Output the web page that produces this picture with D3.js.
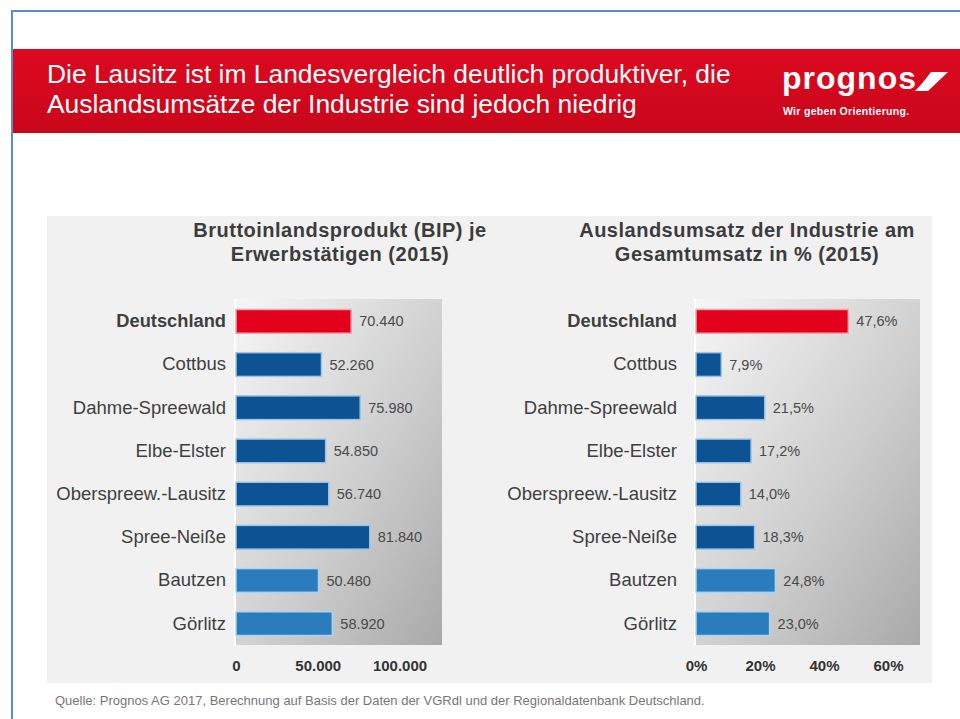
<!DOCTYPE html>
<html>
<head>
<meta charset="utf-8">
<script src="https://cdn.jsdelivr.net/npm/d3@7/dist/d3.min.js"></script>
<style>
  html, body { margin: 0; padding: 0; background: #fff; }
  svg { display: block; font-family: "Liberation Sans", Arial, sans-serif; }
</style>
</head>
<body>
<svg id="chart" width="960" height="719"></svg>
<script>
// Daten aus der Folie
const categories = ["Deutschland", "Cottbus", "Dahme-Spreewald", "Elbe-Elster",
  "Oberspreew.-Lausitz", "Spree-Neiße", "Bautzen", "Görlitz"];
const regionGroup = ["de", "bb", "bb", "bb", "bb", "bb", "sn", "sn"];
const bipValues = [70440, 52260, 75980, 54850, 56740, 81840, 50480, 58920];
const exportShares = [47.6, 7.9, 21.5, 17.2, 14.0, 18.3, 24.8, 23.0];
const bipTicks = [0, 50000, 100000];
const shareTicks = [0, 20, 40, 60];

const de = d3.formatLocale({ decimal: ",", thousands: ".", grouping: [3], currency: ["", " €"] });
const fmtInt = de.format(",d");
const fmtPct = de.format(",.1f");

const groupColor = d3.scaleOrdinal()
  .domain(["de", "bb", "sn"])
  .range(["#e2001a", "#0d5292", "#2b7cbd"]);
const groupStroke = d3.scaleOrdinal()
  .domain(["de", "bb", "sn"])
  .range(["#f3a3ab", "#9cc6e8", "#a9d3f2"]);

const svg = d3.select("#chart");
const defs = svg.append("defs");

// Kopfzeile
const bannerGrad = defs.append("linearGradient").attr("id", "banner")
  .attr("x1", 0).attr("y1", 0).attr("x2", 0).attr("y2", 1);
bannerGrad.append("stop").attr("offset", 0).attr("stop-color", "#dc0a20");
bannerGrad.append("stop").attr("offset", 1).attr("stop-color", "#c9061b");

const plotGrad = defs.append("linearGradient").attr("id", "plotbg")
  .attr("x1", 0).attr("y1", 0).attr("x2", 1).attr("y2", 1);
plotGrad.append("stop").attr("offset", 0).attr("stop-color", "#f6f6f6");
plotGrad.append("stop").attr("offset", 0.55).attr("stop-color", "#cfcfcf");
plotGrad.append("stop").attr("offset", 1).attr("stop-color", "#a9a9a9");

svg.append("rect").attr("x", 13).attr("y", 49).attr("width", 947).attr("height", 84)
  .attr("fill", "url(#banner)");

// blauer Rahmen
svg.append("path").attr("d", "M12,719 V11 H960")
  .attr("fill", "none").attr("stroke", "#5a8bcb").attr("stroke-width", 2);

const head = svg.append("text").attr("fill", "#fff").attr("font-size", 26.4);
head.append("tspan").attr("x", 47).attr("y", 83)
  .text("Die Lausitz ist im Landesvergleich deutlich produktiver, die");
head.append("tspan").attr("x", 47).attr("y", 113)
  .text("Auslandsumsätze der Industrie sind jedoch niedrig");

// Logo
svg.append("text").attr("x", 782).attr("y", 89).attr("fill", "#fff")
  .attr("font-size", 32).attr("font-weight", "bold").attr("letter-spacing", 1)
  .text("prognos");
svg.append("path").attr("d", "M931,72 L948,72 L928,91 L915,91 Q922,84 931,72 Z").attr("fill", "#fff");
svg.append("text").attr("x", 783).attr("y", 115).attr("fill", "#fff")
  .attr("font-size", 10.5).attr("font-weight", "bold").attr("letter-spacing", 0.3)
  .attr("font-family", "'Liberation Sans Narrow', 'Liberation Sans', sans-serif")
  .text("Wir geben Orientierung.");

// grauer Hintergrund der Grafik
svg.append("rect").attr("x", 47).attr("y", 216).attr("width", 885).attr("height", 467)
  .attr("fill", "#f1f1f1");

const plotTop = 299, plotBottom = 645;

function drawPanel(opts) {
  const x = d3.scaleLinear().domain([0, opts.max]).range([opts.left, opts.right]);
  const y = d3.scaleBand().domain(categories).range([plotTop + 1, plotBottom])
    .paddingInner(0.45).paddingOuter(0.22);

  const g = svg.append("g");

  g.append("rect").attr("x", opts.left).attr("y", plotTop)
    .attr("width", opts.right - opts.left).attr("height", plotBottom - plotTop)
    .attr("fill", "url(#plotbg)");
  g.append("line").attr("x1", opts.left - 1).attr("x2", opts.left - 1)
    .attr("y1", plotTop).attr("y2", plotBottom)
    .attr("stroke", "#fff").attr("stroke-width", 2);

  // Titel
  const t = g.append("text").attr("text-anchor", "middle").attr("fill", "#3c3c3c")
    .attr("font-size", 20).attr("font-weight", "bold").attr("letter-spacing", 0.5);
  opts.title.forEach((line, i) => {
    t.append("tspan").attr("x", opts.titleX).attr("y", 237 + i * 24).text(line);
  });

  // Balken
  g.selectAll(".bar").data(opts.values).enter().append("rect")
    .attr("class", "bar")
    .attr("x", x(0))
    .attr("y", (d, i) => y(categories[i]))
    .attr("width", d => x(d) - x(0))
    .attr("height", y.bandwidth())
    .attr("fill", (d, i) => groupColor(regionGroup[i]))
    .attr("stroke", (d, i) => groupStroke(regionGroup[i]))
    .attr("stroke-width", 1.5);

  // Werte
  g.selectAll(".val").data(opts.values).enter().append("text")
    .attr("class", "val")
    .attr("x", d => x(d) + 8)
    .attr("y", (d, i) => y(categories[i]) + y.bandwidth() / 2)
    .attr("dy", "0.35em")
    .attr("font-size", 14.5).attr("fill", "#4a4a4a")
    .text(opts.fmt);

  // Kategorien
  const yAxis = g.append("g").attr("transform", `translate(${x(0)},0)`)
    .call(d3.axisLeft(y).tickSize(0).tickPadding(opts.labelPad));
  yAxis.select(".domain").remove();
  yAxis.selectAll("text")
    .attr("fill", "#3f3f3f")
    .attr("font-family", "'Liberation Sans', Arial, sans-serif")
    .attr("font-weight", d => d === "Deutschland" ? "bold" : "normal")
    .attr("font-size", d => d === "Deutschland" ? 18.3 : 18.5);

  // x-Achse
  const xAxis = g.append("g").attr("transform", `translate(0,${plotBottom})`)
    .call(d3.axisBottom(x).tickValues(opts.ticks).tickSize(0).tickPadding(15.5)
      .tickFormat(opts.tickFmt));
  xAxis.select(".domain").remove();
  xAxis.selectAll("text")
    .attr("font-size", 15).attr("font-weight", "bold").attr("fill", "#333")
    .attr("font-family", "'Liberation Sans', Arial, sans-serif");
}

drawPanel({
  left: 236, right: 442, max: 126000,
  values: bipValues,
  ticks: bipTicks,
  tickFmt: d => fmtInt(d),
  fmt: d => fmtInt(d),
  labelPad: 10,
  title: ["Bruttoinlandsprodukt (BIP) je", "Erwerbstätigen (2015)"],
  titleX: 340
});

drawPanel({
  left: 696, right: 920, max: 70,
  values: exportShares,
  ticks: shareTicks,
  tickFmt: d => d + "%",
  fmt: d => fmtPct(d) + "%",
  labelPad: 19,
  title: ["Auslandsumsatz der Industrie am", "Gesamtumsatz in % (2015)"],
  titleX: 747
});

// Quelle
svg.append("text").attr("x", 55).attr("y", 705).attr("font-size", 13).attr("fill", "#777")
  .text("Quelle: Prognos AG 2017, Berechnung auf Basis der Daten der VGRdl und der Regionaldatenbank Deutschland.");
</script>
</body>
</html>
